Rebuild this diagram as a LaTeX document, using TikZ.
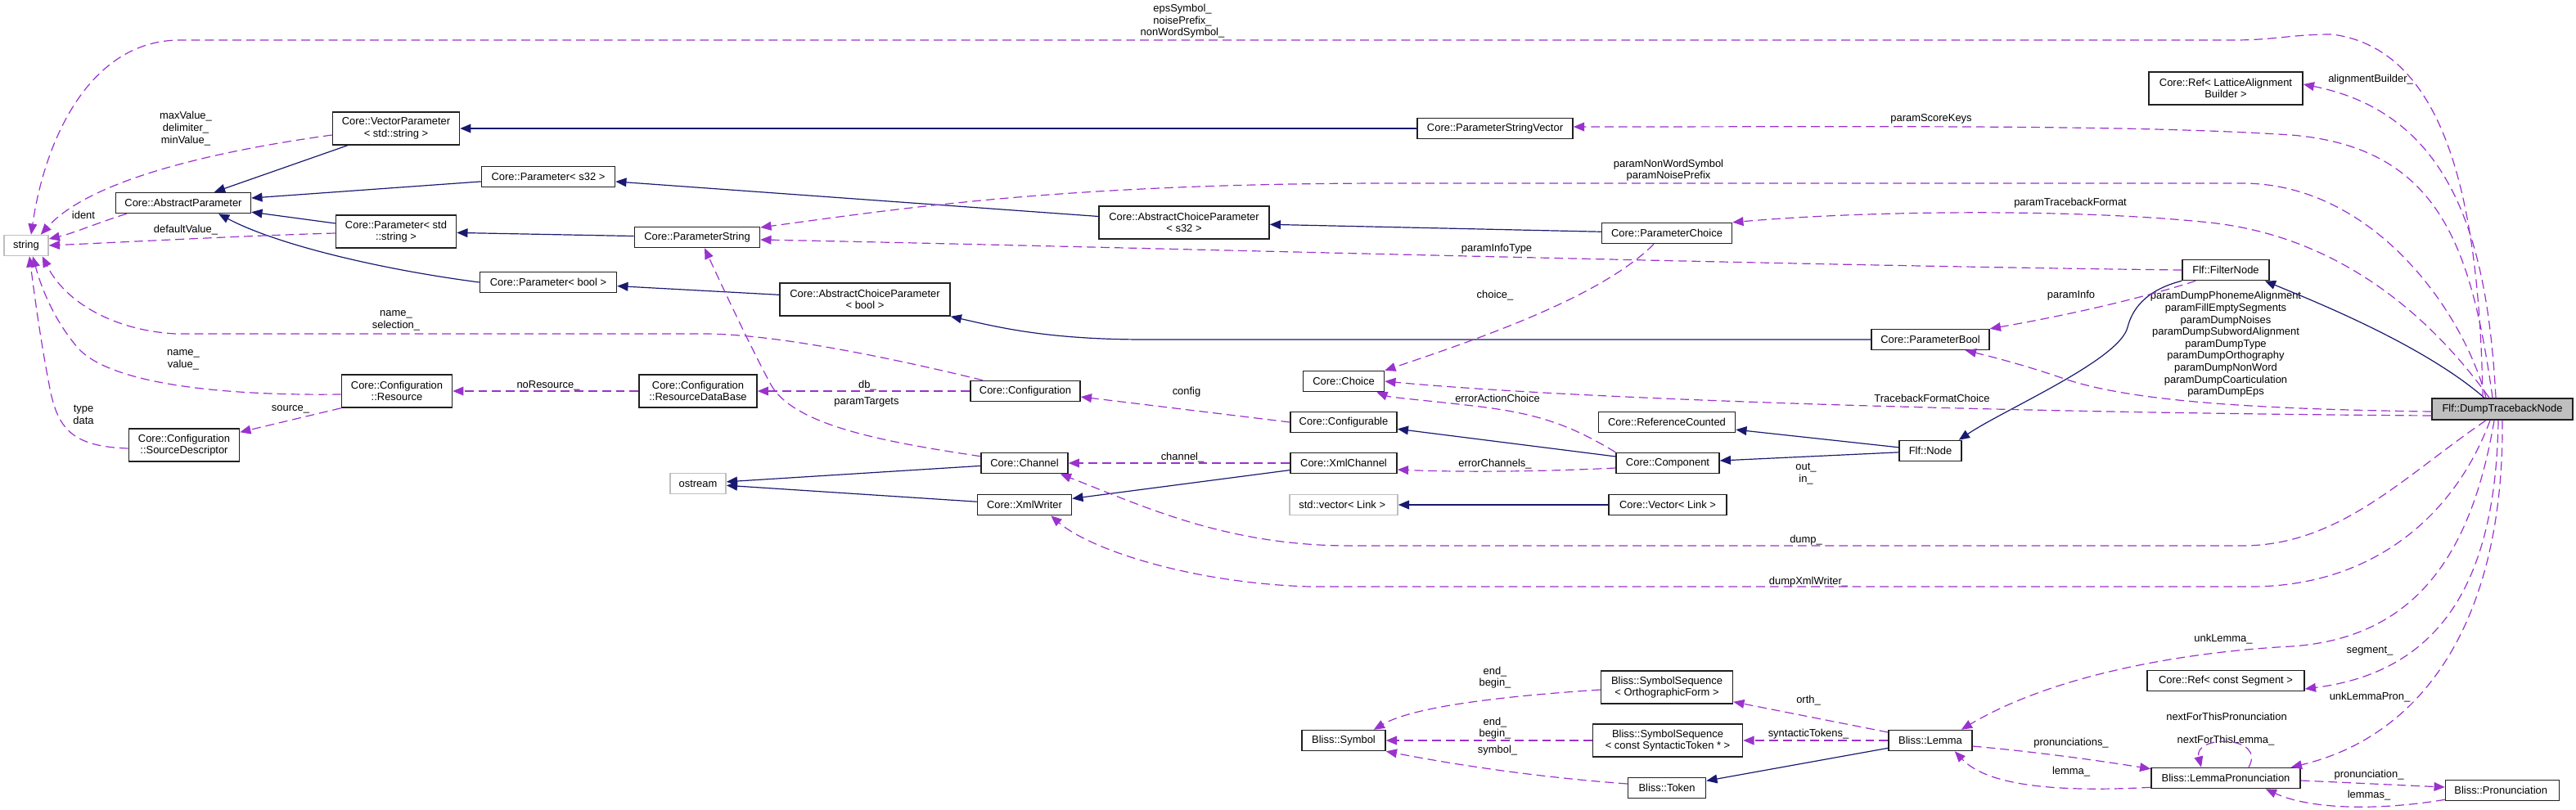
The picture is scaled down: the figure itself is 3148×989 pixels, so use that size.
\documentclass[tikz,border=0pt]{standalone}
\usepackage{fontspec}
\setmainfont{Liberation Sans}
\usepackage{xcolor}
\usepackage{tikz}
\usetikzlibrary{arrows.meta,calc}
\definecolor{inhEdge}{HTML}{191970}
\definecolor{memEdge}{HTML}{9A32CD}
\definecolor{extLine}{HTML}{BFBFBF}
\definecolor{focusFill}{HTML}{BFBFBF}
\definecolor{boxLine}{HTML}{202020}
\tikzset{
  cls/.style = {rectangle, draw=boxLine, line width=1.1pt, fill=white, align=center, inner xsep=2pt, inner ysep=1pt, minimum height=0.625cm},
  cls2/.style = {cls, minimum height=1.0cm},
  ext/.style = {cls, draw=extLine},
  focus/.style = {cls, fill=focusFill, minimum height=0.65cm},
  inh/.style = {draw=inhEdge, line width=0.85pt, -{Triangle[length=0.33cm, width=0.27cm]}},
  mem/.style = {draw=memEdge, line width=0.85pt, dash pattern=on 0.27cm off 0.15cm, -{Triangle[length=0.33cm, width=0.27cm]}},
  lab/.style = {align=center, inner sep=0pt},
}

\begin{document}
\begin{tikzpicture}[x=0.025cm,y=-0.025cm,font=\fontsize{9.2}{10.4}\selectfont]
  \useasboundingbox (0,0) rectangle (3148,989);

  \foreach \nm/\x/\y/\w/\txt in {
    absp/224/248/165/Core::AbstractParameter,
    ps32/670/216/163/Core::Parameter< s32 >,
    pbool/670/345/167/Core::Parameter< bool >,
    pstring/852/290/153/Core::ParameterString,
    psv/1827/157/190/Core::ParameterStringVector,
    pchoice/2037/285/159/Core::ParameterChoice,
    filter/2720/330/106/Flf::FilterNode,
    pboolc/2359/415/144/Core::ParameterBool,
    choice/1642/466/99/Core::Choice,
    conf/1253/478/134/Core::Configuration,
    cfgable/1642/516/130/Core::Configurable,
    refc/2037/516/167/Core::ReferenceCounted,
    comp/2038/566/126/Core::Component,
    xmlch/1642/566/130/Core::XmlChannel,
    fnode/2359/551/76/Flf::Node,
    chan/1252/566/106/Core::Channel,
    xmlw/1252/617/115/Core::XmlWriter,
    cvec/2038/617/144/Core::Vector< Link >,
    sym/1642/905/102/Bliss::Symbol,
    tok/2037/963/95/Bliss::Token,
    lemma/2359/905/102/Bliss::Lemma,
    refseg/2720/832/192/Core::Ref< const Segment >,
    lpron/2720/951/182/Bliss::LemmaPronunciation,
    pron/3058/966/139/Bliss::Pronunciation
  }{
    \node[cls, minimum width=\w*0.025cm] (\nm) at (\x,\y) {\txt};
  }
  \node[cls2, minimum width=155*0.025cm] (vecp) at (484,157) {Core::VectorParameter\\< std::string >};
  \node[cls2, minimum width=147*0.025cm] (pstr) at (484,283) {Core::Parameter< std\\::string >};
  \node[cls2, minimum width=208*0.025cm] (acp32) at (1447,272) {Core::AbstractChoiceParameter\\< s32 >};
  \node[cls2, minimum width=208*0.025cm] (acpbool) at (1057,366) {Core::AbstractChoiceParameter\\< bool >};
  \node[cls2, minimum width=188*0.025cm] (reflat) at (2720,108) {Core::Ref< LatticeAlignment\\Builder >};
  \node[cls2, minimum width=144*0.025cm] (rdb) at (853,478) {Core::Configuration\\::ResourceDataBase};
  \node[cls2, minimum width=135*0.025cm] (res) at (485,478) {Core::Configuration\\::Resource};
  \node[cls2, minimum width=135*0.025cm] (srcd) at (225,544) {Core::Configuration\\::SourceDescriptor};
  \node[cls2, minimum width=161*0.025cm] (ssorth) at (2037,840) {Bliss::SymbolSequence\\< OrthographicForm >};
  \node[cls2, minimum width=183*0.025cm] (sstok) at (2038,905) {Bliss::SymbolSequence\\< const SyntacticToken * >};
  \foreach \nm/\x/\y/\w/\txt in {
    str/32/300/54/string,
    ostr/853/591/68/ostream,
    svec/1642/617/132/std::vector< Link >
  }{
    \node[ext, minimum width=\w*0.025cm] (\nm) at (\x,\y) {\txt};
  }
  \node[focus, minimum width=172*0.025cm] (dtn) at (3058,500) {Flf::DumpTracebackNode};

  \node[lab] (lEps) at (1445,26) {epsSymbol\_\\noisePrefix\_\\nonWordSymbol\_};
  \node[lab] (lMax) at (227,157) {maxValue\_\\delimiter\_\\minValue\_};
  \node[lab] (lIdent) at (102,263) {ident};
  \node[lab] (lDef) at (227,281) {defaultValue\_};
  \node[lab] (lNameSel) at (484,392) {name\_\\selection\_};
  \node[lab] (lNameVal) at (224,440) {name\_\\value\_};
  \node[lab] (lType) at (102,507) {type\\data};
  \node[lab] (lSource) at (355,500) {source\_};
  \node[lab] (lNoRes) at (670,471) {noResource\_};
  \node[lab] (lDb) at (1060,471) {db\_};
  \node[lab] (lTargets) at (1059,491) {paramTargets};
  \node[lab] (lConfig) at (1450,479) {config};
  \node[lab] (lChannel) at (1445,559) {channel\_};
  \node[lab] (lChoice) at (1827,361) {choice\_};
  \node[lab] (lErrAct) at (1830,487) {errorActionChoice};
  \node[lab] (lErrCh) at (1827,567) {errorChannels\_};
  \node[lab] (lOutIn) at (2207,579) {out\_\\in\_};
  \node[lab] (lDump) at (2207,660) {dump\_};
  \node[lab] (lDumpXml) at (2210,711) {dumpXmlWriter\_};
  \node[lab] (lTbChoice) at (2361,487) {TracebackFormatChoice};
  \node[lab] (lInfo) at (2531,361) {paramInfo};
  \node[lab] (lDumpFlags) at (2720,421) {paramDumpPhonemeAlignment\\paramFillEmptySegments\\paramDumpNoises\\paramDumpSubwordAlignment\\paramDumpType\\paramDumpOrthography\\paramDumpNonWord\\paramDumpCoarticulation\\paramDumpEps};
  \node[lab] (lInfoType) at (1829,304) {paramInfoType};
  \node[lab] (lNonWord) at (2039,208) {paramNonWordSymbol\\paramNoisePrefix};
  \node[lab] (lScore) at (2360,145) {paramScoreKeys};
  \node[lab] (lAlign) at (2897,97) {alignmentBuilder\_};
  \node[lab] (lTbFormat) at (2530,248) {paramTracebackFormat};
  \node[lab] (lOrthEnd) at (1827,828) {end\_\\begin\_};
  \node[lab] (lTokEnd) at (1827,890) {end\_\\begin\_};
  \node[lab] (lSymbol) at (1830,917) {symbol\_};
  \node[lab] (lOrth) at (2210,856) {orth\_};
  \node[lab] (lSynt) at (2210,897) {syntacticTokens\_};
  \node[lab] (lUnkLemma) at (2717,781) {unkLemma\_};
  \node[lab] (lSegment) at (2896,796) {segment\_};
  \node[lab] (lUnkPron) at (2896,852) {unkLemmaPron\_};
  \node[lab] (lNextPron) at (2721,876) {nextForThisPronunciation};
  \node[lab] (lNextLemma) at (2720,905) {nextForThisLemma\_};
  \node[lab] (lProns) at (2531,908) {pronunciations\_};
  \node[lab] (lLemma) at (2531,943) {lemma\_};
  \node[lab] (lPron) at (2895,947) {pronunciation\_};
  \node[lab] (lLemmas) at (2895,972) {lemmas\_};

  \draw[inh] (vecp) -- (absp);
  \draw[inh] (ps32) -- (absp);
  \draw[inh] (pstr) -- (absp);
  \draw[inh] (pbool.west) .. controls (470,330) and (340,300) .. ($(absp.south)+(43,0)$);
  \draw[inh] (psv) -- (vecp);
  \draw[inh] (acp32) -- (ps32);
  \draw[inh] (pstring) -- (pstr);
  \draw[inh] (pchoice) -- (acp32);
  \draw[inh] (acpbool) -- (pbool);
  \draw[inh] (pboolc.west) -- (1400,415) .. controls (1280,415) and (1220,400) .. (acpbool.south east);
  \draw[inh] (filter.south west) .. controls (2620,355) and (2605,380) .. (2600,400) .. controls (2590,440) and (2450,500) .. ($(fnode.north east)+(-4,0)$);
  \draw[inh] ($(dtn.north)+(-22,0)$) .. controls (2960,420) and (2820,365) .. ($(filter.south east)+(-6,0)$);
  \draw[inh] (fnode) -- (refc);
  \draw[inh] (fnode) -- (comp);
  \draw[inh] (comp) -- (cfgable);
  \draw[inh] (cvec) -- (svec);
  \draw[inh] (chan) -- (ostr);
  \draw[inh] (xmlw) -- (ostr);
  \draw[inh] (xmlch) -- (xmlw);
  \draw[inh] (lemma) -- (tok);

  \draw[mem] ($(dtn.north)+(-24,0)$) .. controls (3030,250) and (2990,60) .. (2850,42) .. controls (2800,42) and (2780,49) .. (2730,49) -- (220,49) .. controls (110,49) and (55,170) .. ($(str.north)+(6,0)$);
  \draw[mem] ($(vecp.west)+(0,8)$) .. controls (260,185) and (110,220) .. ($(str.north east)+(-10,0)$);
  \draw[mem] ($(absp.south west)+(14,0)$) .. controls (120,272) and (90,285) .. ($(str.east)+(0,-8)$);
  \draw[mem] ($(pstr.west)+(0,2)$) .. controls (300,288) and (150,296) .. (str.east);
  \draw[mem] ($(conf.north)+(-52,0)$) .. controls (1100,440) and (950,408) .. (860,408) -- (215,408) .. controls (140,404) and (80,370) .. ($(str.south east)+(-8,0)$);
  \draw[mem] ($(res.west)+(0,4)$) .. controls (250,484) and (130,465) .. (95,425) .. controls (65,390) and (50,350) .. ($(str.south)+(8,0)$);
  \draw[mem] ($(srcd.west)+(0,4)$) .. controls (90,546) and (72,525) .. (62,480) .. controls (50,420) and (42,360) .. ($(str.south)+(4,0)$);
  \draw[mem] (res.south west) -- ($(srcd.north east)+(0,5)$);
  \draw[mem] (rdb) -- (res);
  \draw[mem] (conf) -- (rdb);
  \draw[mem] ($(chan.north west)+(0,5)$) .. controls (1080,540) and (970,520) .. (942,470) .. controls (915,420) and (878,340) .. ($(pstring.south)+(9,0)$);
  \draw[mem] (cfgable.west) -- ($(conf.east)+(0,7)$);
  \draw[mem] (xmlch) -- (chan);
  \draw[mem] ($(comp.west)+(0,6)$) .. controls (1870,577) and (1780,577) .. ($(xmlch.east)+(0,8)$);
  \draw[mem] (comp.north west) .. controls (1920,520) and (1880,505) .. (1800,496) .. controls (1740,489) and (1700,486) .. ($(choice.south east)+(-10,0)$);
  \draw[mem] ($(pchoice.south)+(-16,0)$) .. controls (1960,360) and (1820,410) .. (choice.north east);
  \draw[mem] ($(dtn.west)+(0,8)$) .. controls (2500,505) and (1950,490) .. (choice.east);
  \draw[mem] ($(dtn.west)+(0,3)$) .. controls (2750,500) and (2600,490) .. (2520,462) .. controls (2470,445) and (2430,435) .. ($(pboolc.south east)+(-30,0)$);
  \draw[mem] ($(filter.south west)+(17,0)$) .. controls (2600,370) and (2500,390) .. (pboolc.north east);
  \draw[mem] (filter.west) .. controls (2200,325) and (1300,300) .. ($(pstring.east)+(0,3)$);
  \draw[mem] ($(dtn.north)+(-20,0)$) .. controls (3010,380) and (2900,224) .. (2740,224) -- (1700,224) .. controls (1300,224) and (1100,255) .. ($(pstring.east)+(0,-12)$);
  \draw[mem] ($(dtn.north)+(-16,0)$) .. controls (2980,400) and (2870,290) .. (2700,272) .. controls (2550,256) and (2300,256) .. (pchoice.north east);
  \draw[mem] ($(dtn.north)+(-12,0)$) .. controls (3020,300) and (2980,180) .. (2800,165) .. controls (2600,152) and (2300,155) .. ($(psv.east)+(0,-2)$);
  \draw[mem] ($(dtn.north)+(-8,0)$) .. controls (3040,300) and (3000,140) .. ($(reflat.east)+(0,-5)$);
  \draw[mem] ($(dtn.south)+(-20,0)$) .. controls (2940,580) and (2860,667) .. (2740,667) -- (1650,667) .. controls (1500,667) and (1400,620) .. ($(chan.south east)+(-10,0)$);
  \draw[mem] ($(dtn.south)+(-15,0)$) .. controls (3000,630) and (2900,717) .. (2750,717) -- (1600,717) .. controls (1450,712) and (1330,670) .. ($(xmlw.south east)+(-26,0)$);
  \draw[mem] ($(dtn.south)+(-10,0)$) .. controls (3020,680) and (2950,780) .. (2800,790) .. controls (2650,798) and (2500,830) .. ($(lemma.north east)+(-14,0)$);
  \draw[mem] ($(dtn.south)+(-5,0)$) .. controls (3050,700) and (2990,820) .. ($(refseg.east)+(0,10)$);
  \draw[mem] (dtn.south) .. controls (3060,760) and (2960,900) .. ($(lpron.north east)+(-12,0)$);
  \draw[mem] ($(lemma.west)+(0,-10)$) -- ($(ssorth.south east)+(0,-3)$);
  \draw[mem] (lemma) -- (sstok);
  \draw[mem] ($(ssorth.west)+(0,3)$) .. controls (1850,850) and (1730,862) .. ($(sym.north east)+(-15,0)$);
  \draw[mem] (sstok) -- (sym);
  \draw[mem] ($(tok.west)+(0,-5)$) .. controls (1880,950) and (1780,935) .. (sym.south east);
  \draw[mem] ($(lemma.east)+(0,7)$) .. controls (2500,920) and (2580,932) .. ($(lpron.north west)+(0,2)$);
  \draw[mem] ($(lpron.south west)+(0,-2)$) .. controls (2520,968) and (2430,962) .. ($(lemma.south east)+(-22,0)$);
  \draw[mem] ($(lpron.north)+(28,0)$) .. controls (2770,898) and (2680,898) .. ($(lpron.north)+(-30,0)$);
  \draw[mem] ($(lpron.east)+(0,3)$) .. controls (2880,957) and (2940,960) .. ($(pron.west)+(0,-4)$);
  \draw[mem] ($(pron.south west)+(0,-2)$) .. controls (2900,992) and (2820,988) .. ($(lpron.south east)+(-43,0)$);
\end{tikzpicture}
\end{document}
